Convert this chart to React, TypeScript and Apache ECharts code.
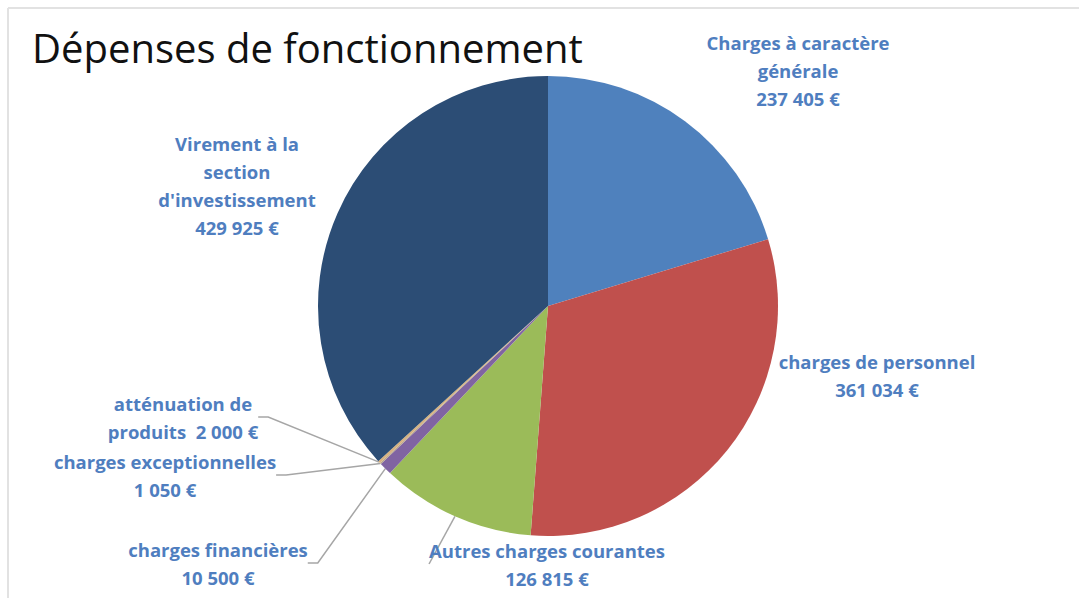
import React, { useEffect, useRef } from "react";
import * as echarts from "echarts";

const categories = [
  "Charges à caractère\ngénérale",
  "charges de personnel",
  "Autres charges courantes",
  "charges financières",
  "charges exceptionnelles",
  "atténuation de\nproduits ",
  "Virement à la\nsection\nd'investissement",
];
const values = [237405, 361034, 126815, 10500, 1050, 2000, 429925];
const valueLabels = ["237 405 €", "361 034 €", "126 815 €", "10 500 €", "1 050 €", "2 000 €", "429 925 €"];
const colors = ["#4F81BD", "#C0504D", "#9BBB59", "#8064A2", "#B9A78C", "#D8B27E", "#2C4D75"];
const inlineValue = [false, false, false, false, false, true, false];
const showLine = [false, false, true, true, true, true, false];
const labelAnchors = [
  [798, 70],
  [877, 375],
  [547, 564],
  [218, 563],
  [165, 475],
  [183, 417],
  [237, 185],
];

export default function App() {
  const ref = useRef<HTMLDivElement>(null);
  useEffect(() => {
    if (!ref.current) return;
    const chart = echarts.init(ref.current, null, { renderer: "svg" });
    const data = categories.map((name, i) => ({
      name,
      value: values[i],
      itemStyle: { color: colors[i] },
      label: {
        formatter: inlineValue[i] ? name + " " + valueLabels[i] : name + "\n" + valueLabels[i],
      },
      labelLine: { show: showLine[i] },
    }));
    chart.setOption({
      animation: false,
      backgroundColor: "#ffffff",
      title: {
        text: "Dépenses de fonctionnement",
        left: 27,
        top: 22,
        textStyle: {
          fontFamily: "Open Sans",
          fontWeight: "normal",
          fontSize: 40,
          color: "#111111",
        },
      },
      graphic: [
        { type: "line", shape: { x1: 8, y1: 8, x2: 1079, y2: 8 }, style: { stroke: "#e2e2e2", lineWidth: 2 } },
        { type: "line", shape: { x1: 8, y1: 8, x2: 8, y2: 598 }, style: { stroke: "#e2e2e2", lineWidth: 2 } },
      ],
      series: [
        {
          type: "pie",
          center: [548, 306],
          radius: 230,
          startAngle: 90,
          clockwise: true,
          data,
          label: {
            show: true,
            position: "outside",
            color: "#4F7EBF",
            fontFamily: "Open Sans",
            fontWeight: "bold",
            fontSize: 18.5,
            lineHeight: 28,
            align: "center",
          },
          labelLine: {
            show: true,
            length: 10,
            length2: 10,
            lineStyle: { color: "#a6a6a6", width: 1.5 },
          },
          labelLayout: (params: any) => {
            const a = labelAnchors[params.dataIndex];
            return { x: a[0], y: a[1], align: "center", verticalAlign: "middle" };
          },
        },
      ],
    });
    return () => chart.dispose();
  }, []);
  return (
    <div
      ref={ref}
      style={{ position: "absolute", left: 0, top: 0, width: 1079, height: 598 }}
    />
  );
}
